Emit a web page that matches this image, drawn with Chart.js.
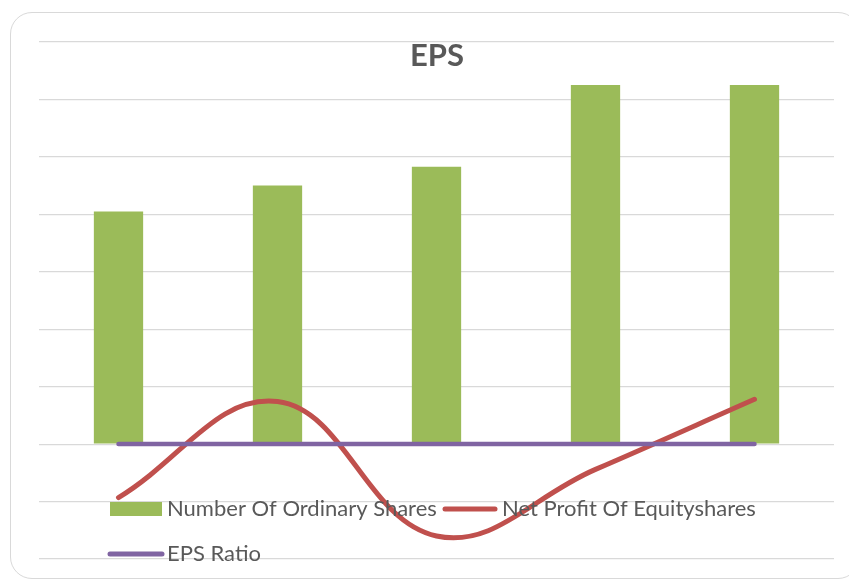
<!DOCTYPE html>
<html>
<head>
<meta charset="utf-8">
<script src="https://cdn.jsdelivr.net/npm/chart.js@4.4.1/dist/chart.umd.min.js"></script>
<style>
  html, body { margin: 0; padding: 0; background: #fff; }
  #wrap { position: relative; width: 849px; height: 581px; overflow: hidden; }
  #frame {
    position: absolute; left: 10px; top: 12px; width: 850px; height: 567px;
    border: 1.5px solid #d9d9d9; border-radius: 22px; box-sizing: border-box;
  }
  #eps-chart { position: absolute; left: 0; top: 0; }
</style>
</head>
<body>
<div id="wrap">
  <div id="frame"></div>
  <canvas id="eps-chart" width="849" height="581"></canvas>
</div>
<script>
// Data (one grid step = 1 unit)
const chartTitle = 'EPS';
const years = ['1', '2', '3', '4', '5'];
const ordinaryShares = [4.05, 4.5, 4.83, 6.25, 6.25];
const netProfit = [-0.93, 0.74, -1.6, -0.44, 0.78];
const epsRatio = [0, 0, 0, 0, 0];
const yTicks = [-2, -1, 0, 1, 2, 3, 4, 5, 6, 7];

const GREEN = '#9BBB59';
const RED = '#C0504D';
const PURPLE = '#8064A2';
const TEXT = '#595959';

// Title + legend sit on top of the plot area, like the Excel original
const overlayPlugin = {
    id: 'overlay',
    afterDraw(chart) {
        const ctx = chart.ctx;
        const ds = chart.data.datasets;
        ctx.save();

        ctx.fillStyle = TEXT;
        ctx.font = 'bold 31px Lato';
        ctx.textAlign = 'center';
        ctx.textBaseline = 'middle';
        ctx.fillText(chartTitle, 437, 56);

        ctx.font = '22px Lato';
        ctx.textAlign = 'left';

        // Number Of Ordinary Shares
        ctx.fillStyle = ds[0].backgroundColor;
        ctx.fillRect(110, 502, 52, 14);
        ctx.fillStyle = TEXT;
        ctx.fillText(ds[0].label, 167, 509);

        ctx.lineCap = 'round';
        // Net Profit
        ctx.strokeStyle = ds[1].borderColor;
        ctx.lineWidth = 5;
        ctx.beginPath();
        ctx.moveTo(445, 509);
        ctx.lineTo(495, 509);
        ctx.stroke();
        ctx.fillText(ds[1].label, 502, 509);

        // EPS Ratio
        ctx.strokeStyle = ds[2].borderColor;
        ctx.lineWidth = 5;
        ctx.beginPath();
        ctx.moveTo(110, 554);
        ctx.lineTo(162, 554);
        ctx.stroke();
        ctx.fillText(ds[2].label, 167, 554);

        ctx.restore();
    }
};

const ctx = document.getElementById('eps-chart').getContext('2d');

new Chart(ctx, {
    type: 'bar',
    data: {
        labels: years,
        datasets: [
            {
                label: 'Number Of Ordinary Shares',
                data: ordinaryShares,
                backgroundColor: GREEN,
                barPercentage: 0.31,
                categoryPercentage: 1,
                order: 3
            },
            {
                type: 'line',
                label: 'Net Profit Of Equityshares',
                data: netProfit,
                borderColor: RED,
                borderWidth: 5,
                borderCapStyle: 'round',
                pointRadius: 0,
                tension: 0.4,
                fill: false,
                order: 2
            },
            {
                type: 'line',
                label: 'EPS Ratio',
                data: epsRatio,
                borderColor: PURPLE,
                borderWidth: 4.5,
                borderCapStyle: 'round',
                pointRadius: 0,
                fill: false,
                order: 1
            }
        ]
    },
    options: {
        responsive: false,
        animation: false,
        layout: {
            padding: { left: 39, right: 15, top: 42, bottom: 22 }
        },
        plugins: {
            legend: { display: false },
            title: { display: false },
            tooltip: { enabled: false }
        },
        scales: {
            x: {
                display: false,
                offset: true,
                grid: { display: false }
            },
            y: {
                min: yTicks[0],
                max: yTicks[yTicks.length - 1],
                afterBuildTicks: (axis) => {
                    axis.ticks = yTicks.map(v => ({ value: v }));
                },
                ticks: { display: false },
                border: { display: false },
                grid: { color: '#d9d9d9', lineWidth: 1.2, drawTicks: false }
            }
        }
    },
    plugins: [overlayPlugin]
});
</script>
</body>
</html>
